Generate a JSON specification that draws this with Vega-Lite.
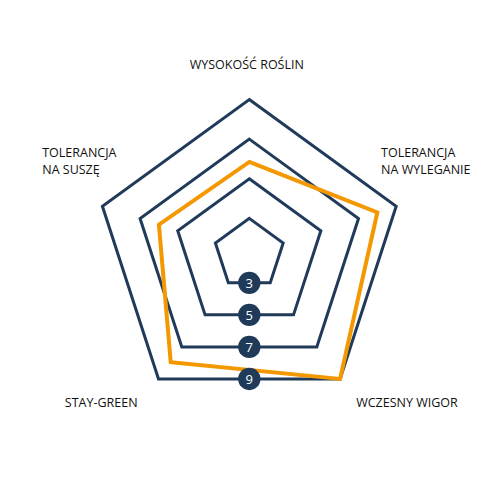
{
  "$schema": "https://vega.github.io/schema/vega-lite/v6.json",
  "width": 500,
  "height": 500,
  "padding": 0,
  "autosize": {"type": "fit", "contains": "padding"},
  "background": "white",
  "config": {"view": {"stroke": null}},
  "datasets": {
    "traits": [
      {"trait": "WYSOKOŚĆ ROŚLIN", "idx": 0, "value": 5.85},
      {"trait": "TOLERANCJA\nNA WYLEGANIE", "idx": 1, "value": 8},
      {"trait": "WCZESNY WIGOR", "idx": 2, "value": 9},
      {"trait": "STAY-GREEN", "idx": 3, "value": 7.95},
      {"trait": "TOLERANCJA\nNA SUSZĘ", "idx": 4, "value": 6}
    ],
    "levels": [
      {"level": 3, "idx": [0, 1, 2, 3, 4]},
      {"level": 5, "idx": [0, 1, 2, 3, 4]},
      {"level": 7, "idx": [0, 1, 2, 3, 4]},
      {"level": 9, "idx": [0, 1, 2, 3, 4]}
    ]
  },
  "encoding": {
    "x": {"field": "px", "type": "quantitative", "scale": {"domain": [-12.591, 12.662], "nice": false, "zero": false}, "axis": null},
    "y": {"field": "py", "type": "quantitative", "scale": {"domain": [-12.424, 12.828], "nice": false, "zero": false}, "axis": null}
  },
  "layer": [
    {
      "data": {"name": "levels"},
      "transform": [
        {"flatten": ["idx"]},
        {"calculate": "datum.level - 1.2", "as": "r"},
        {"calculate": "datum.r * sin(2 * PI * datum.idx / 5)", "as": "px"},
        {"calculate": "datum.r * cos(2 * PI * datum.idx / 5)", "as": "py"}
      ],
      "mark": {"type": "line", "interpolate": "linear-closed", "color": "#203a5a", "strokeWidth": 3, "strokeJoin": "miter"},
      "encoding": {
        "detail": {"field": "level", "type": "nominal"},
        "order": {"field": "idx", "type": "quantitative"}
      }
    },
    {
      "data": {"name": "traits"},
      "transform": [
        {"calculate": "datum.value - 1.2", "as": "r"},
        {"calculate": "datum.r * sin(2 * PI * datum.idx / 5)", "as": "px"},
        {"calculate": "datum.r * cos(2 * PI * datum.idx / 5)", "as": "py"}
      ],
      "mark": {"type": "line", "interpolate": "linear-closed", "color": "#f39800", "strokeWidth": 4, "strokeJoin": "miter"},
      "encoding": {
        "order": {"field": "idx", "type": "quantitative"}
      }
    },
    {
      "data": {"name": "levels"},
      "transform": [
        {"calculate": "0", "as": "px"},
        {"calculate": "-(datum.level - 1.2) * cos(PI / 5)", "as": "py"}
      ],
      "layer": [
        {
          "mark": {"type": "circle", "size": 500, "opacity": 1, "color": "#203a5a"}
        },
        {
          "mark": {"type": "text", "color": "white", "font": "Open Sans", "fontSize": 13, "baseline": "middle", "align": "center", "dy": 1},
          "encoding": {"text": {"field": "level", "type": "nominal"}}
        }
      ]
    },
    {
      "data": {"name": "traits"},
      "transform": [
        {"calculate": "7.8 * sin(2 * PI * datum.idx / 5)", "as": "px"},
        {"calculate": "7.8 * cos(2 * PI * datum.idx / 5)", "as": "py"}
      ],
      "layer": [
        {
          "transform": [{"filter": "datum.idx == 0"}],
          "mark": {"type": "text", "font": "Open Sans", "fontSize": 12.5, "color": "#111111", "align": "center", "baseline": "middle", "dx": -2.5, "dy": -34.6},
          "encoding": {"text": {"field": "trait", "type": "nominal"}}
        },
        {
          "transform": [{"filter": "datum.idx == 1"}],
          "mark": {"type": "text", "font": "Open Sans", "fontSize": 12.5, "color": "#111111", "align": "left", "baseline": "middle", "lineBreak": "\n", "lineHeight": 17.4, "dx": -15.1, "dy": -53.3},
          "encoding": {"text": {"field": "trait", "type": "nominal"}}
        },
        {
          "transform": [{"filter": "datum.idx == 2"}],
          "mark": {"type": "text", "font": "Open Sans", "fontSize": 12.5, "color": "#111111", "align": "center", "baseline": "middle", "dx": 66.9, "dy": 23.8},
          "encoding": {"text": {"field": "trait", "type": "nominal"}}
        },
        {
          "transform": [{"filter": "datum.idx == 3"}],
          "mark": {"type": "text", "font": "Open Sans", "fontSize": 12.5, "color": "#111111", "align": "center", "baseline": "middle", "dx": -57.3, "dy": 23.8},
          "encoding": {"text": {"field": "trait", "type": "nominal"}}
        },
        {
          "transform": [{"filter": "datum.idx == 4"}],
          "mark": {"type": "text", "font": "Open Sans", "fontSize": 12.5, "color": "#111111", "align": "left", "baseline": "middle", "lineBreak": "\n", "lineHeight": 17.4, "dx": -60.2, "dy": -53.3},
          "encoding": {"text": {"field": "trait", "type": "nominal"}}
        }
      ]
    }
  ]
}
